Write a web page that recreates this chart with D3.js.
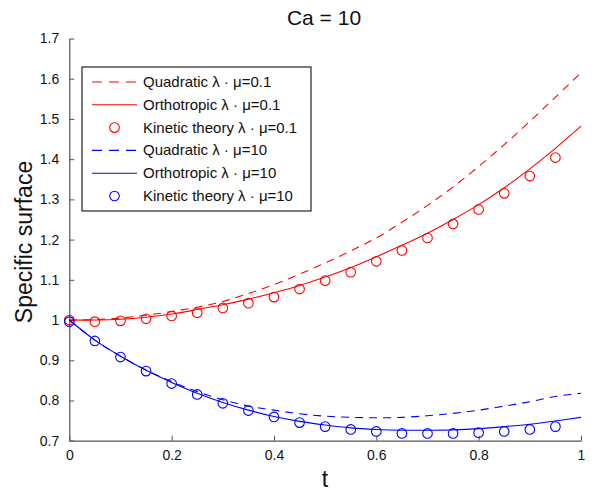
<!DOCTYPE html>
<html><head><meta charset="utf-8">
<script src="https://cdn.jsdelivr.net/npm/d3@7"></script>
<style>body{margin:0;background:#fff}svg{display:block}text{font-family:"Liberation Sans",Arial,sans-serif}</style>
</head><body>
<svg id="c" width="593" height="493"></svg>
<script>
const tLine = [0,0.05,0.1,0.15,0.2,0.25,0.3,0.35,0.4,0.45,0.5,0.55,0.6,0.65,0.7,0.75,0.8,0.85,0.9,0.95,1.0];
const quadLow  = [1.0,1.001,1.005,1.012,1.021,1.032,1.046,1.066,1.088,1.114,1.142,1.172,1.204,1.243,1.285,1.331,1.382,1.436,1.494,1.554,1.615];
const orthoLow = [1.0,1.0,1.002,1.007,1.015,1.026,1.038,1.052,1.068,1.086,1.107,1.13,1.157,1.186,1.216,1.25,1.287,1.329,1.376,1.427,1.482];
const quadHigh = [1.0,0.95,0.91,0.876,0.847,0.822,0.802,0.786,0.776,0.767,0.761,0.758,0.757,0.758,0.762,0.768,0.776,0.786,0.797,0.81,0.818];
const orthoHigh= [1.0,0.95,0.91,0.875,0.845,0.818,0.795,0.776,0.76,0.748,0.739,0.732,0.728,0.726,0.726,0.727,0.73,0.735,0.741,0.749,0.758];
const tPts = [0,0.05,0.1,0.15,0.2,0.25,0.3,0.35,0.4,0.45,0.5,0.55,0.6,0.65,0.7,0.75,0.8,0.85,0.9,0.95];
const kinLow  = [1.0,0.996,0.998,1.003,1.01,1.018,1.03,1.042,1.057,1.077,1.098,1.119,1.146,1.173,1.204,1.239,1.275,1.315,1.358,1.404];
const kinHigh = [0.996,0.948,0.908,0.873,0.842,0.815,0.793,0.775,0.759,0.745,0.735,0.728,0.723,0.718,0.718,0.718,0.72,0.723,0.728,0.735];
const xTicks = [0,0.2,0.4,0.6,0.8,1];
const yTicks = [0.7,0.8,0.9,1,1.1,1.2,1.3,1.4,1.5,1.6,1.7];
const legendLabels = ["Quadratic λ · μ=0.1","Orthotropic λ · μ=0.1","Kinetic theory λ · μ=0.1","Quadratic λ · μ=10","Orthotropic λ · μ=10","Kinetic theory λ · μ=10"];

const svg = d3.select("#c");
const L=69.3,R=581,T=38.5,B=440.7;
const x = d3.scaleLinear().domain([0,1]).range([L,R]);
const y = d3.scaleLinear().domain([0.7,1.7]).range([B,T]);
const RED="#ff0000", BLUE="#0000ff", AX="#555";
const FONT="Liberation Sans, Arial, sans-serif";

svg.append("text").attr("x",324).attr("y",25).attr("text-anchor","middle").attr("font-size",21).attr("fill","#111").text("Ca = 10");

const xa = svg.append("g").attr("transform",`translate(0,${B})`)
  .call(d3.axisBottom(x).tickValues(xTicks).tickSizeInner(-5).tickSizeOuter(0).tickPadding(9).tickFormat(d3.format("~g")));
const ya = svg.append("g").attr("transform",`translate(${L},0)`)
  .call(d3.axisLeft(y).tickValues(yTicks).tickSizeInner(-5).tickSizeOuter(0).tickPadding(10).tickFormat(d3.format("~g")));
[xa,ya].forEach(a=>{a.select(".domain").attr("stroke",AX).attr("stroke-width",1.2);
  a.selectAll(".tick line").attr("stroke",AX);
  a.selectAll(".tick text").attr("font-size",14).attr("fill","#111").style("font-family",FONT);});

svg.append("text").attr("transform","translate(32,242) rotate(-90)").attr("text-anchor","middle").attr("font-size",23).attr("fill","#111").text("Specific surface");
svg.append("text").attr("x",325).attr("y",487).attr("text-anchor","middle").attr("font-size",23).attr("fill","#111").text("t");

const line = d3.line().x((d,i)=>x(tLine[i])).y(d=>y(d)).curve(d3.curveCatmullRom);
const g = svg.append("g");
function drawLine(arr,col,dash){g.append("path").attr("d",line(arr)).attr("fill","none").attr("stroke",col).attr("stroke-width",1.1).attr("stroke-dasharray",dash||null);}
drawLine(quadLow,RED,"8,6");
drawLine(orthoLow,RED);
drawLine(quadHigh,BLUE,"8,6");
drawLine(orthoHigh,BLUE);
function drawPts(arr,col){g.selectAll(null).data(arr).enter().append("circle").attr("cx",(d,i)=>x(tPts[i])).attr("cy",d=>y(d)).attr("r",4.8).attr("fill","none").attr("stroke",col).attr("stroke-width",1.1);}
drawPts(kinLow,RED);
drawPts(kinHigh,BLUE);

// legend
const lg = svg.append("g");
lg.append("rect").attr("x",82).attr("y",67).attr("width",229).attr("height",144).attr("fill","#fff").attr("stroke","#222").attr("stroke-width",1.2);
const styles=[{c:RED,t:"dash"},{c:RED,t:"line"},{c:RED,t:"circ"},{c:BLUE,t:"dash"},{c:BLUE,t:"line"},{c:BLUE,t:"circ"}];
legendLabels.forEach((lab,i)=>{
  const yy = 82 + i*22.8;
  const s = styles[i];
  if(s.t==="circ") lg.append("circle").attr("cx",114.5).attr("cy",yy).attr("r",4.8).attr("fill","none").attr("stroke",s.c).attr("stroke-width",1.1);
  else lg.append("line").attr("x1",92).attr("x2",137).attr("y1",yy).attr("y2",yy).attr("stroke",s.c).attr("stroke-width",1.1).attr("stroke-dasharray",s.t==="dash"?"10,7":null);
  lg.append("text").attr("x",143).attr("y",yy+5).attr("font-size",15).attr("fill","#111").text(lab);
});
</script>
</body></html>
